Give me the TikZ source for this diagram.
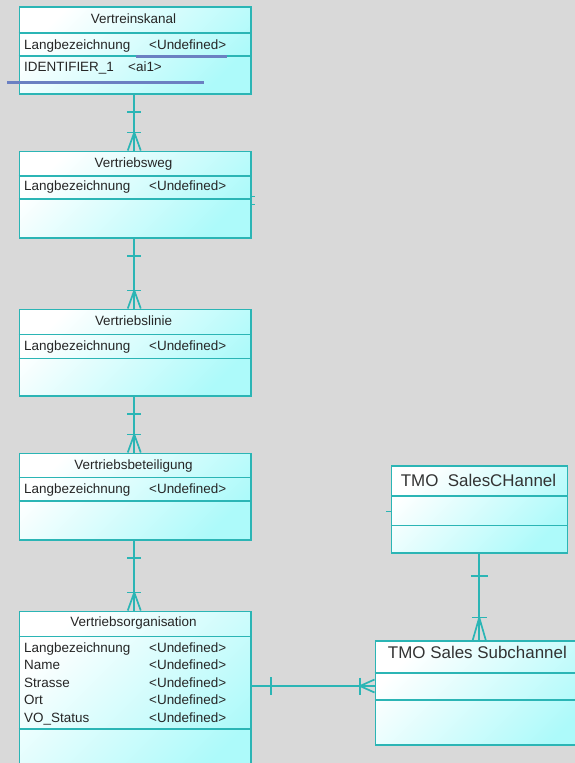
\documentclass[tikz,border=0pt]{standalone}
\usepackage{fontspec}
\setmainfont{Liberation Sans}
\usetikzlibrary{calc}

\definecolor{erline}{HTML}{2BB5B5}
\definecolor{erfill}{HTML}{ADFAFA}
\definecolor{bgcol}{HTML}{D9D9D9}
\definecolor{hiblue}{HTML}{6B80C2}

\tikzset{
  entity/.style={draw=erline, line width=1.5bp, top color=white, bottom color=erfill,
    shading angle=45, minimum width=231.5bp, anchor=north west, inner sep=0pt},
  sep/.style={draw=erline, line width=1.5bp},
  titel/.style={font=\fontsize{13.5}{16}\selectfont, text=black!85, inner sep=0pt, anchor=base},
  attr/.style={font=\fontsize{13.5}{16}\selectfont, text=black!85, anchor=base west, inner sep=0pt},
  tmotitel/.style={font=\fontsize{17}{20}\selectfont, text=black!80, inner sep=0pt, anchor=base},
  rel/.style={draw=erline, line width=1.7bp},
  hilite/.style={draw=hiblue, line width=2.6bp},
}

\begin{document}
\begin{tikzpicture}[x=1bp, y=-1bp]

% Hintergrund
\useasboundingbox (0,0) rectangle (575,763);
\fill[bgcol] (0,0) rectangle (575,763);
\clip (0,0) rectangle (575,763);

% Entitaeten links
\node[entity, minimum height=86.5bp] (kanal) at (18.5,6.5) {};
\node[entity, minimum height=86.5bp] (weg) at (18.5,150.5) {};
\node[entity, minimum height=86.5bp] (linie) at (18.5,308.5) {};
\node[entity, minimum height=86.5bp] (beteil) at (18.5,452.5) {};
\node[entity, minimum height=170bp] (org) at (18.5,610.5) {};

% Entitaeten rechts
\node[entity, minimum width=176bp, minimum height=87bp] (chan) at (390.5,465) {};
\node[entity, minimum width=220bp, minimum height=104bp] (sub) at (374.5,640) {};

% Trennlinien
\draw[sep] (kanal.north west) ++(0,26.5) -- ++(231.5,0);
\draw[sep] (kanal.north west) ++(0,49.5) -- ++(231.5,0);
\draw[sep] (weg.north west) ++(0,25.5) -- ++(231.5,0);
\draw[sep] (weg.north west) ++(0,48.5) -- ++(231.5,0);
\draw[sep] (linie.north west) ++(0,26) -- ++(231.5,0);
\draw[sep] (linie.north west) ++(0,50) -- ++(231.5,0);
\draw[sep] (beteil.north west) ++(0,25) -- ++(231.5,0);
\draw[sep] (beteil.north west) ++(0,48.5) -- ++(231.5,0);
\draw[sep] (org.north west) ++(0,26) -- ++(231.5,0);
\draw[sep] (org.north west) ++(0,118.5) -- ++(231.5,0);
\draw[sep] (chan.north west) ++(0,31) -- ++(176,0);
\draw[sep] (chan.north west) ++(0,60.5) -- ++(176,0);
\draw[sep] (sub.north west) ++(0,33) -- ++(220,0);
\draw[sep] (sub.north west) ++(0,60) -- ++(220,0);

% Titel
\node[titel] (kanaltitel) at (133.5,24) {Vertreinskanal};
\node[titel] (wegtitel) at (133.5,167.8) {Vertriebsweg};
\node[titel] (linietitel) at (133.5,325.7) {Vertriebslinie};
\node[titel] (beteiltitel) at (133.5,469.3) {Vertriebsbeteiligung};
\node[titel] (orgtitel) at (133.5,626.7) {Vertriebsorganisation};
\node[tmotitel] (chantitel) at (478.5,486) {TMO\ \ SalesCHannel};
\node[tmotitel] (subtitel) at (477.4,658.3) {TMO Sales Subchannel};

% Attribute
\node[attr] (kanal1) at (24,49.3) {Langbezeichnung};
\node[attr] (kanal1t) at (149,49.3) {<Undefined>};
\node[attr] (kanal2) at (24,71.3) {IDENTIFIER\_1};
\node[attr] (kanal2t) at (128,71.3) {<ai1>};
\node[attr] (weg1) at (24,190.5) {Langbezeichnung};
\node[attr] (weg1t) at (149,190.5) {<Undefined>};
\node[attr] (linie1) at (24,350) {Langbezeichnung};
\node[attr] (linie1t) at (149,350) {<Undefined>};
\node[attr] (beteil1) at (24,493.5) {Langbezeichnung};
\node[attr] (beteil1t) at (149,493.5) {<Undefined>};
\node[attr] (org1) at (24,652.3) {Langbezeichnung};
\node[attr] (org1t) at (149,652.3) {<Undefined>};
\node[attr] (org2) at (24,669.3) {Name};
\node[attr] (org2t) at (149,669.3) {<Undefined>};
\node[attr] (org3) at (24,687) {Strasse};
\node[attr] (org3t) at (149,687) {<Undefined>};
\node[attr] (org4) at (24,704.5) {Ort};
\node[attr] (org4t) at (149,704.5) {<Undefined>};
\node[attr] (org5) at (24,722) {VO\_Status};
\node[attr] (org5t) at (149,722) {<Undefined>};

% Markierungen
\draw[hilite] (136,56.7) -- (227,56.7);
\draw[hilite] (7,82.7) -- (204,82.7);

% Beziehungen links (1 : n)
\foreach \a/\b in {kanal/weg, weg/linie, linie/beteil, beteil/org} {
  \coordinate (von) at ($(\a.south)+(-0.75,0)$);
  \coordinate (nach) at ($(\b.north)+(-0.75,0)$);
  \draw[rel] (von) -- (nach);
  \draw[rel] ($(von)+(-7,17.5)$) -- ++(14,0);
  \draw[rel] ($(nach)+(-7,-18)$) -- ++(14,0);
  \draw[rel] ($(nach)+(-6.5,0)$) -- ($(nach)+(0,-18)$) -- ($(nach)+(6.5,0)$);
}

% Beziehung SalesCHannel - Subchannel
\coordinate (chanend) at (chan.south);
\coordinate (subtop) at (chanend |- sub.north);
\draw[rel] (chanend) -- (subtop);
\draw[rel] ($(chanend)+(-8.5,22.5)$) -- ++(17,0);
\draw[rel] ($(subtop)+(-7.5,-22.5)$) -- ++(15,0);
\draw[rel] ($(subtop)+(-6.5,0)$) -- ($(subtop)+(0,-22.5)$) -- ($(subtop)+(6.5,0)$);
\fill[erline] ($(subtop)+(0,-16.5)$) circle (2.2bp);

% Beziehung Vertriebsorganisation - Subchannel
\coordinate (orgend) at (250,686);
\coordinate (subend) at (374.5,686);
\draw[rel] (orgend) -- (subend);
\draw[rel] ($(orgend)+(21,-9)$) -- ++(0,18);
\draw[rel] ($(subend)+(-14.5,-8.5)$) -- ++(0,17);
\draw[rel] ($(subend)+(0,-6.5)$) -- ($(subend)+(-14.5,0)$) -- ($(subend)+(0,6.5)$);
\fill[erline] ($(subend)+(-11,0)$) circle (2.2bp);

% Stummel an Vertriebsweg und SalesCHannel
\coordinate (wegstub) at ($(weg.east)+(3,2)$);
\draw[erline, line width=1bp] (wegstub) -- (wegstub -| weg.east) -- ++(0,8) -- ++(3,0);
\coordinate (stub) at (386,511.5);
\draw[rel] (stub) -- (stub -| chan.west);

\end{tikzpicture}
\end{document}
